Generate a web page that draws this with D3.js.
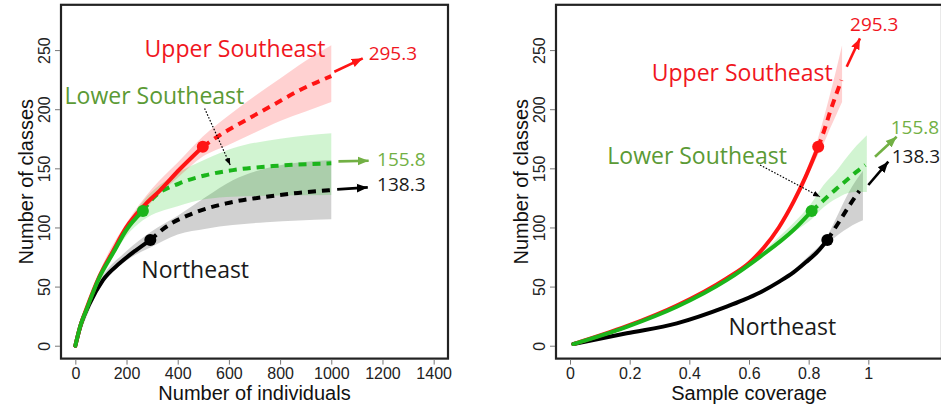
<!DOCTYPE html>
<html>
<head>
<meta charset="utf-8">
<script src="https://cdn.jsdelivr.net/npm/d3@7"></script>
<style>
  body { margin: 0; background: #fff; }
  svg { display: block; }
</style>
</head>
<body>
<svg id="chart" width="941" height="408"></svg>
<script>
'use strict';

// ---- axes ----
const classTicks = [0, 50, 100, 150, 200, 250];
const indTicks = [0, 200, 400, 600, 800, 1000, 1200, 1400];
const covTicks = [0, 0.2, 0.4, 0.6, 0.8, 1];
const covTickLabels = ["0", "0.2", "0.4", "0.6", "0.8", "1"];

const regionNames = ["Upper Southeast", "Lower Southeast", "Northeast"];
const asymptoteLabels = ["295.3", "155.8", "138.3"];

// ---- left panel: classes vs number of individuals ----
// rarefied part (solid)
const indUpperX = [0, 20, 43, 95, 147, 199, 271, 329, 407, 498];
const indUpperY = [0, 17, 31, 59, 80, 100, 119, 131, 149, 168.3];
const indLowerX = [0, 20, 43, 95, 147, 199, 264];
const indLowerY = [0, 17, 30.2, 58.3, 78.1, 97.8, 113.9];
const indNorthX = [0, 23, 56, 108, 173, 238, 293];
const indNorthY = [0, 19, 35.8, 55.5, 69.7, 80.9, 89.4];
// extrapolated part (dashed)
const indUpperExtX = [498, 564, 668, 772, 876, 1000];
const indUpperExtY = [168.3, 178, 191, 203.5, 216, 228];
const indLowerExtX = [264, 303, 407, 512, 616, 772, 1000];
const indLowerExtY = [113.9, 124.6, 137.3, 144.3, 148.5, 151.9, 154.2];
const indNorthExtX = [293, 355, 459, 590, 746, 870, 1000];
const indNorthExtY = [89.4, 100.6, 111.9, 120.4, 126, 129.2, 131.6];
// confidence bands
const indUpperBandX = [0, 100, 200, 300, 400, 498, 600, 700, 800, 900, 1000];
const indUpperBandLo = [0, 59, 95, 122, 142, 160, 170, 180, 190, 198, 206];
const indUpperBandHi = [0, 65, 104, 133, 155, 177, 195, 211, 226, 241, 254];
const indLowerBandX = [0, 100, 200, 264, 400, 511, 615, 800, 1000];
const indLowerBandLo = [0, 55, 93, 106, 118, 124, 126, 127, 127.4];
const indLowerBandHi = [0, 61, 102, 122, 146, 158, 167, 175, 179.6];
const indNorthBandX = [0, 100, 200, 293, 400, 511, 615, 746, 1000];
const indNorthBandLo = [0, 50, 72, 83, 94, 99, 102, 104.5, 107];
const indNorthBandHi = [0, 56, 80, 96, 110, 126, 140, 150, 157];

// ---- right panel: classes vs sample coverage ----
const covUpperX = [0.011, 0.19, 0.358, 0.525, 0.60, 0.65, 0.70, 0.75, 0.79, 0.832];
const covUpperY = [1.4, 16.5, 34, 57, 70, 83, 100, 122, 143, 168.3];
const covLowerX = [0.011, 0.19, 0.358, 0.525, 0.637, 0.749, 0.81];
const covLowerY = [1.4, 16, 33, 55.5, 75.2, 97.8, 113.9];
const covNorthX = [0.011, 0.19, 0.358, 0.525, 0.58, 0.637, 0.70, 0.749, 0.79, 0.83, 0.8626];
const covNorthY = [1.4, 10.5, 18.9, 33, 38.5, 45, 54, 62, 70.5, 79.5, 89.4];
const covUpperExtX = [0.832, 0.852, 0.872, 0.89, 0.91];
const covUpperExtY = [168.3, 182, 198, 211, 224.6];
const covLowerExtX = [0.81, 0.85, 0.89, 0.93, 0.96, 0.99];
const covLowerExtY = [113.9, 123, 132, 140.5, 147, 152.8];
const covNorthExtX = [0.8626, 0.90, 0.935, 0.97];
const covNorthExtY = [89.4, 104, 118, 131];
const covUpperBandX = [0.75, 0.79, 0.832, 0.852, 0.872, 0.892, 0.912];
const covUpperBandLo = [120, 140, 162, 172, 184, 195, 206];
const covUpperBandHi = [125, 147, 176, 194, 213, 233, 254];
const covLowerBandX = [0.65, 0.70, 0.75, 0.81, 0.85, 0.89, 0.93, 0.96, 0.995];
const covLowerBandLo = [77, 86, 96, 107, 117, 124, 129, 130, 130];
const covLowerBandHi = [80, 92, 104, 121, 136, 147, 160, 169, 178];
const covNorthBandX = [0.75, 0.80, 0.8626, 0.90, 0.935, 0.982];
const covNorthBandLo = [60, 71, 86, 94, 100, 106];
const covNorthBandHi = [64, 76, 93, 112, 130, 148];

const zip = (xs, ys) => xs.map((v, i) => [v, ys[i]]);
const zipBand = (xs, lo, hi) => xs.map((v, i) => [v, lo[i], hi[i]]);

const colRed = "#ff1414", colGreen = "#1bb51b", colBlack = "#000";
const txtRed = "#f0161e", txtGreen = "#5b9a35", txtGreenLight = "#72b044", txtBlack = "#1a1a1a";

const svg = d3.select("#chart");
const defs = svg.append("defs");

// arrowheads
function marker(id, color, size) {
    defs.append("marker")
        .attr("id", id)
        .attr("viewBox", "0 0 10 10")
        .attr("refX", 10).attr("refY", 5)
        .attr("markerUnits", "userSpaceOnUse")
        .attr("markerWidth", size).attr("markerHeight", size)
        .attr("orient", "auto")
        .append("path")
        .attr("d", "M0,1 L10,5 L0,9 Z")
        .attr("fill", color);
}
marker("arRed", colRed, 11);
marker("arGreen", txtGreenLight, 11);
marker("arBlack", colBlack, 11);
marker("arDot", colBlack, 7);

function drawPanel(p) {
    let x = p.x, y = p.y;
    let g = svg.append("g");
    let x0 = x.range()[0], x1 = x.range()[1];
    let yb = y.range()[0], yt = y.range()[1];

    // bands
    let area = d3.area()
        .x(d => x(d[0])).y0(d => y(d[1])).y1(d => y(d[2]))
        .curve(d3.curveMonotoneX);
    p.bands.forEach(b => {
        g.append("path").attr("d", area(b.data))
            .attr("fill", b.color).attr("fill-opacity", 0.18);
    });

    // lines
    let line = d3.line().x(d => x(d[0])).y(d => y(d[1])).curve(d3.curveMonotoneX);
    p.lines.forEach(l => {
        g.append("path").attr("d", line(l.data))
            .attr("fill", "none").attr("stroke", l.color)
            .attr("stroke-width", 4)
            .attr("stroke-linecap", l.dashed ? "butt" : "round")
            .attr("stroke-dasharray", l.dashed ? "8,6" : null);
    });

    // observed points
    p.dots.forEach(d => {
        g.append("circle").attr("cx", x(d.pt[0])).attr("cy", y(d.pt[1]))
            .attr("r", 6).attr("fill", d.color);
    });

    // annotation arrows
    p.arrows.forEach(a => {
        g.append("line")
            .attr("x1", x(a.from[0])).attr("y1", y(a.from[1]))
            .attr("x2", x(a.to[0])).attr("y2", y(a.to[1]))
            .attr("stroke", a.color)
            .attr("stroke-width", a.dotted ? 1.2 : 2.6)
            .attr("stroke-dasharray", a.dotted ? "1.6,1.6" : null)
            .attr("marker-end", "url(#" + a.marker + ")");
    });

    // annotation texts
    p.labels.forEach(t => {
        g.append("text")
            .attr("x", x(t.at[0])).attr("y", y(t.at[1]))
            .attr("fill", t.color)
            .style("font-family", "'Open Sans', 'Noto Sans', sans-serif")
            .style("font-size", t.size + "px")
            .text(t.text);
    });

    // frame
    g.append("rect")
        .attr("x", x0).attr("y", yt)
        .attr("width", x1 - x0).attr("height", yb - yt)
        .attr("fill", "none").attr("stroke", "#222").attr("stroke-width", 2.2);

    // x axis
    let xa = g.append("g")
        .attr("transform", "translate(0," + (yb + 1) + ")")
        .call(d3.axisBottom(x).tickValues(p.xTicks).tickFormat(p.xFormat).tickSize(5).tickPadding(3));
    xa.select(".domain").remove();
    xa.selectAll(".tick line").attr("stroke", "#777");
    xa.selectAll(".tick text")
        .attr("fill", "#222")
        .style("font-family", "'Liberation Sans', Arial, sans-serif")
        .style("font-size", "16px");

    // y axis (rotated labels, R style)
    let ya = g.append("g")
        .attr("transform", "translate(" + (x0 - 1) + ",0)")
        .call(d3.axisLeft(y).tickValues(classTicks).tickSize(5));
    ya.select(".domain").remove();
    ya.selectAll(".tick line").attr("stroke", "#777");
    ya.selectAll(".tick text")
        .attr("transform", "rotate(-90)")
        .attr("x", 0).attr("y", -10).attr("dy", 0)
        .attr("text-anchor", "middle")
        .attr("fill", "#222")
        .style("font-family", "'Liberation Sans', Arial, sans-serif")
        .style("font-size", "16px");

    // axis titles
    g.append("text")
        .attr("x", (x0 + x1) / 2).attr("y", 400)
        .attr("text-anchor", "middle").attr("fill", "#111")
        .style("font-family", "'Liberation Sans', Arial, sans-serif")
        .style("font-size", "20px")
        .text(p.xTitle);
    g.append("text")
        .attr("transform", "translate(" + (x0 - 28) + "," + ((yb + yt) / 2) + ") rotate(-90)")
        .attr("text-anchor", "middle").attr("fill", "#111")
        .style("font-family", "'Liberation Sans', Arial, sans-serif")
        .style("font-size", "20px")
        .text("Number of classes");
}

// y scales share the same frame
const yLeft = d3.scaleLinear().domain([-10.9, 288.3]).range([358.6, 4.8]);
const yRight = d3.scaleLinear().domain([-10.9, 288.3]).range([358.6, 4.8]);
const xInd = d3.scaleLinear().domain([-56, 1456]).range([61, 448]);
const xCov = d3.scaleLinear().domain([-0.047, 1.247]).range([556, 942]);

drawPanel({
    x: xInd, y: yLeft,
    xTicks: indTicks, xFormat: d3.format("d"),
    xTitle: "Number of individuals",
    bands: [
        { data: zipBand(indNorthBandX, indNorthBandLo, indNorthBandHi), color: "#000" },
        { data: zipBand(indLowerBandX, indLowerBandLo, indLowerBandHi), color: "#00c000" },
        { data: zipBand(indUpperBandX, indUpperBandLo, indUpperBandHi), color: "#ff0000" }
    ],
    lines: [
        { data: zip(indNorthExtX, indNorthExtY), color: colBlack, dashed: true },
        { data: zip(indLowerExtX, indLowerExtY), color: colGreen, dashed: true },
        { data: zip(indUpperExtX, indUpperExtY), color: colRed, dashed: true },
        { data: zip(indNorthX, indNorthY), color: colBlack },
        { data: zip(indUpperX, indUpperY), color: colRed },
        { data: zip(indLowerX, indLowerY), color: colGreen }
    ],
    dots: [
        { pt: [indNorthX[indNorthX.length - 1], indNorthY[indNorthY.length - 1]], color: colBlack },
        { pt: [indLowerX[indLowerX.length - 1], indLowerY[indLowerY.length - 1]], color: colGreen },
        { pt: [indUpperX[indUpperX.length - 1], indUpperY[indUpperY.length - 1]], color: colRed }
    ],
    arrows: [
        { from: [1012, 231.7], to: [1123, 243], color: colRed, marker: "arRed" },
        { from: [1028, 155.9], to: [1146, 156.4], color: txtGreenLight, marker: "arGreen" },
        { from: [1023, 132.2], to: [1142.5, 133.9], color: colBlack, marker: "arBlack" },
        { from: [505, 200.7], to: [605, 152.8], color: colBlack, marker: "arDot", dotted: true }
    ],
    labels: [
        { text: regionNames[0], at: [270.6, 243.8], color: txtRed, size: 23 },
        { text: regionNames[1], at: [-42, 204.3], color: txtGreen, size: 23 },
        { text: regionNames[2], at: [258, 57.5], color: txtBlack, size: 23 },
        { text: asymptoteLabels[0], at: [1146, 242], color: txtRed, size: 19 },
        { text: asymptoteLabels[1], at: [1179, 152.2], color: txtGreenLight, size: 19 },
        { text: asymptoteLabels[2], at: [1179, 131], color: txtBlack, size: 19 }
    ]
});

drawPanel({
    x: xCov, y: yRight,
    xTicks: covTicks, xFormat: (d, i) => covTickLabels[i],
    xTitle: "Sample coverage",
    bands: [
        { data: zipBand(covNorthBandX, covNorthBandLo, covNorthBandHi), color: "#000" },
        { data: zipBand(covLowerBandX, covLowerBandLo, covLowerBandHi), color: "#00c000" },
        { data: zipBand(covUpperBandX, covUpperBandLo, covUpperBandHi), color: "#ff0000" }
    ],
    lines: [
        { data: zip(covNorthExtX, covNorthExtY), color: colBlack, dashed: true },
        { data: zip(covLowerExtX, covLowerExtY), color: colGreen, dashed: true },
        { data: zip(covUpperExtX, covUpperExtY), color: colRed, dashed: true },
        { data: zip(covNorthX, covNorthY), color: colBlack },
        { data: zip(covUpperX, covUpperY), color: colRed },
        { data: zip(covLowerX, covLowerY), color: colGreen }
    ],
    dots: [
        { pt: [covNorthX[covNorthX.length - 1], covNorthY[covNorthY.length - 1]], color: colBlack },
        { pt: [covLowerX[covLowerX.length - 1], covLowerY[covLowerY.length - 1]], color: colGreen },
        { pt: [covUpperX[covUpperX.length - 1], covUpperY[covUpperY.length - 1]], color: colRed }
    ],
    arrows: [
        { from: [0.9276, 235.9], to: [0.972, 259.9], color: colRed, marker: "arRed" },
        { from: [1.0225, 159.8], to: [1.095, 176.7], color: txtGreenLight, marker: "arGreen" },
        { from: [1.0, 135.9], to: [1.067, 155.6], color: colBlack, marker: "arBlack" },
        { from: [0.637, 152.8], to: [0.838, 126], color: colBlack, marker: "arDot", dotted: true }
    ],
    labels: [
        { text: regionNames[0], at: [0.274, 223.8], color: txtRed, size: 23 },
        { text: regionNames[1], at: [0.125, 153.6], color: txtGreen, size: 23 },
        { text: regionNames[2], at: [0.531, 9], color: txtBlack, size: 23 },
        { text: asymptoteLabels[0], at: [0.9387, 266], color: txtRed, size: 19 },
        { text: asymptoteLabels[1], at: [1.075, 178.7], color: txtGreenLight, size: 19 },
        { text: asymptoteLabels[2], at: [1.0785, 154.2], color: txtBlack, size: 19 }
    ]
});
</script>
</body>
</html>
